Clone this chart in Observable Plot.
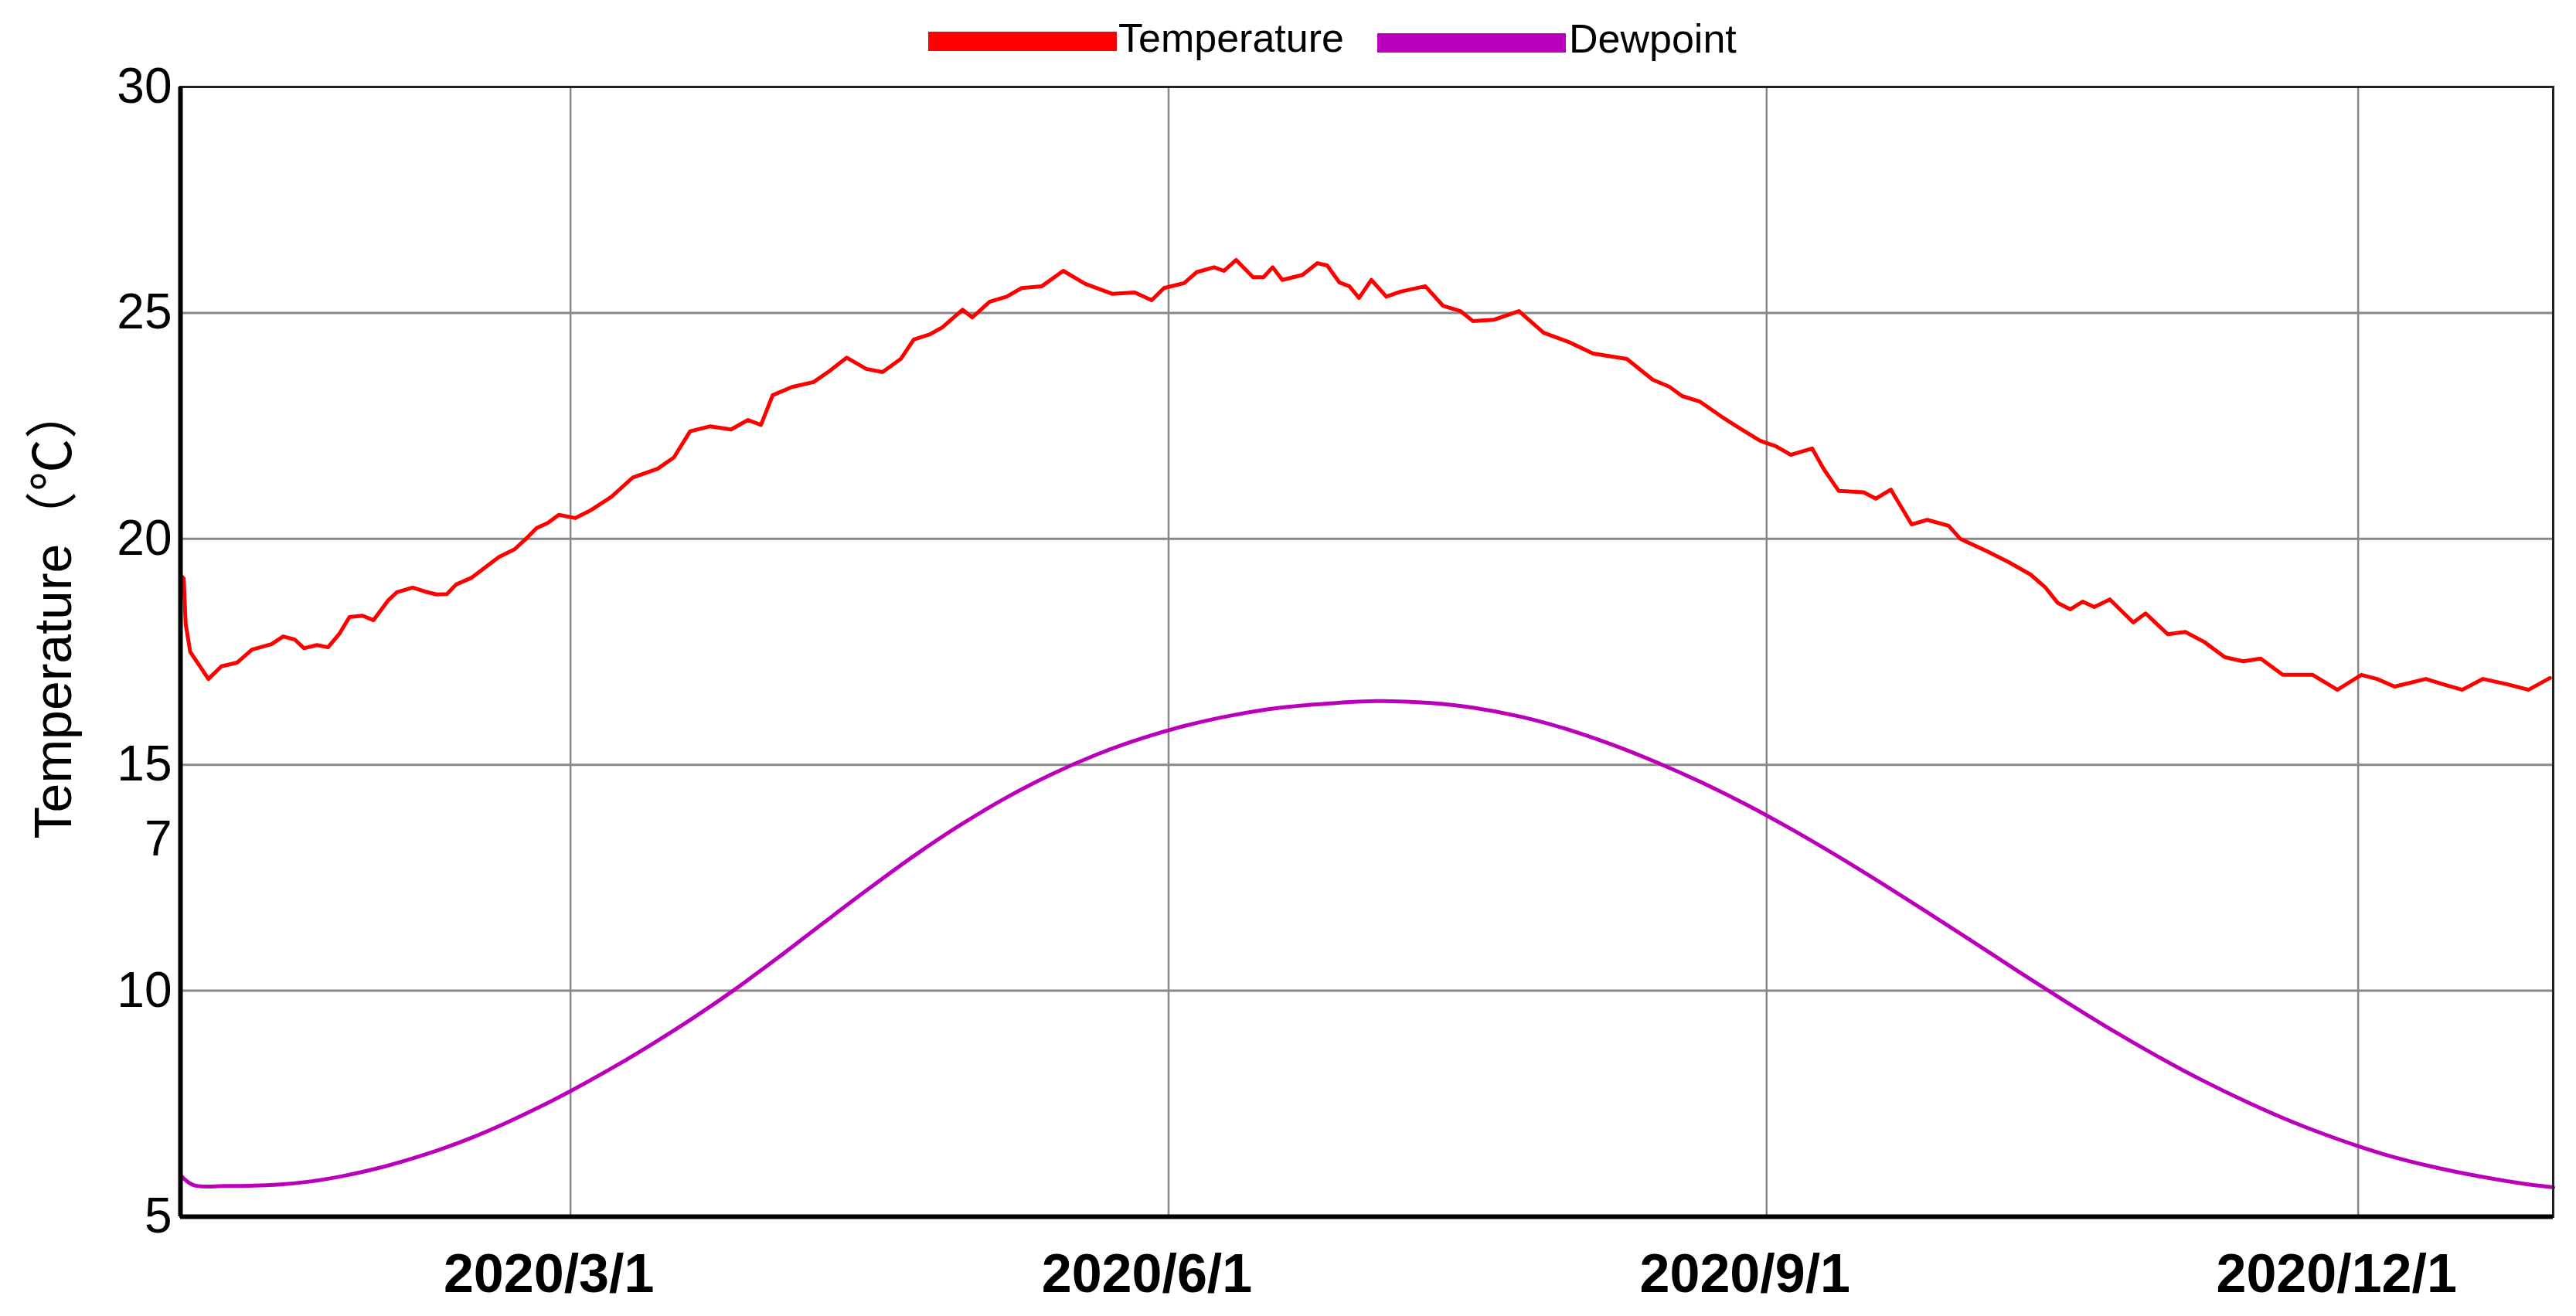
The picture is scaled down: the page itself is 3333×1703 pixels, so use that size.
<!DOCTYPE html>
<html><head><meta charset="utf-8">
<script src="https://cdn.jsdelivr.net/npm/d3@7"></script>
<script src="https://cdn.jsdelivr.net/npm/@observablehq/plot@0.6"></script>
<style>
body{margin:0;background:#fff;}
#wrap{position:relative;width:3333px;height:1703px;}
#legend{position:absolute;left:0;top:0;height:80px;width:3333px;font-family:"Liberation Sans",Arial,sans-serif;z-index:2;}
.sw{position:absolute;height:25px;width:244px;}
.lt{position:absolute;font-size:52px;line-height:1;color:#000;white-space:nowrap;}
</style></head><body>
<div id="wrap">
<div id="chart"></div>
<div id="legend"></div>
</div>
<script>
// ---- data ----
const seriesNames = ["Temperature", "Dewpoint"];
const seriesColors = ["#ff0000", "#bb00bb"];

// day offsets from 2020-01-01
const tempDay = [0,0.5,0.8,1.5,4.3,6.3,8.7,11,14,15.8,17.6,19,21,22.7,24.4,26,28,29.7,31.9,33.3,35.7,37.7,39.4,41,42.4,44.8,47,49,51.4,53,54.8,56.5,58.2,60.7,63.2,66.3,69.6,73.4,75.9,78.4,81.5,84.7,87.3,89.3,91.1,94.1,97.4,99.9,102.5,105.5,108,110.8,112.8,115.2,117.2,120.3,121.8,124.5,127.1,129.4,132.5,135.8,139.2,143.4,146.8,149.4,151.3,154.4,156.3,159,160.5,162.4,165,166.6,168,169.5,172.6,174.9,176.4,178.3,179.8,181.3,183.2,185.5,187.7,191.5,194.2,196.9,198.8,202.1,205.9,209.7,213.5,217.3,222.5,226.5,229,231,233.7,237,239.7,243,245.4,247.7,251,252.8,255.1,258.9,260.8,263.1,266.3,268.7,272,273.8,278,281.3,284.6,286.9,288.8,290.7,292.6,294.4,296.8,300.4,302.3,305.7,308.4,311.3,314.5,317.3,320,323.4,328,331.8,335.5,337.9,340.6,345.4,348.1,351,354.2,358,361.2,364.5];
const tempValue = [19.2,19.12,18.12,17.5,16.9,17.18,17.26,17.55,17.67,17.84,17.77,17.58,17.65,17.6,17.89,18.27,18.3,18.2,18.63,18.82,18.92,18.83,18.77,18.78,18.99,19.14,19.38,19.6,19.77,19.98,20.24,20.35,20.53,20.46,20.64,20.93,21.36,21.55,21.8,22.38,22.49,22.42,22.63,22.52,23.18,23.36,23.47,23.72,24.01,23.76,23.69,23.98,24.41,24.52,24.68,25.07,24.9,25.25,25.36,25.55,25.59,25.93,25.64,25.42,25.45,25.28,25.55,25.66,25.9,26.01,25.93,26.17,25.79,25.79,26.01,25.73,25.84,26.1,26.05,25.67,25.59,25.33,25.73,25.36,25.47,25.59,25.16,25.04,24.82,24.85,25.04,24.56,24.36,24.1,23.98,23.52,23.37,23.16,23.04,22.71,22.46,22.17,22.05,21.86,22.0,21.54,21.06,21.03,20.89,21.09,20.32,20.42,20.29,20.0,19.72,19.48,19.21,18.92,18.58,18.44,18.61,18.49,18.66,18.15,18.35,17.89,17.94,17.72,17.38,17.29,17.35,16.99,16.99,16.66,16.99,16.9,16.73,16.9,16.78,16.66,16.9,16.78,16.66,16.92];

const dewDay = [0,2,7,15,20,25,30,35,40,45,50,55,60,67,73,79,85,92,99,106,113,120,127,134,141,148,155,162,169,176,180,185,192,199,206,213,220,227,234,241,248,255,262,269,276,283,290,297,304,311,318,325,332,339,346,353,360,365];
const dewValue = [5.92,5.7,5.68,5.71,5.78,5.9,6.06,6.26,6.49,6.76,7.07,7.41,7.78,8.34,8.86,9.41,10.0,10.74,11.51,12.27,13.0,13.67,14.27,14.79,15.23,15.59,15.88,16.1,16.26,16.35,16.39,16.41,16.37,16.26,16.07,15.8,15.46,15.06,14.61,14.11,13.56,12.97,12.35,11.71,11.06,10.4,9.76,9.14,8.56,8.02,7.53,7.09,6.71,6.38,6.12,5.91,5.74,5.65];

const yTicks = [5, 10, 15, 20, 25, 30];
const extraYTick = [13.35];
const extraYLabel = "7";
const xTickDates = ["2020-03-01", "2020-06-01", "2020-09-01", "2020-12-01"];
const xTickLabels = ["2020/3/1", "2020/6/1", "2020/9/1", "2020/12/1"];
const xDomain = ["2020-01-01", "2020-12-31"];
const yDomain = [5, 30];
const yLabel = "Temperature（℃）";

// ---- build ----
const t0 = Date.UTC(2020, 0, 1);
const toDate = d => new Date(t0 + d * 864e5);
const temp = tempDay.map((d, i) => ({date: toDate(d), value: tempValue[i]}));
const dew = dewDay.map((d, i) => ({date: toDate(d), value: dewValue[i]}));
const xTicks = xTickDates.map(s => new Date(s + "T00:00:00Z"));
const xLabelOf = d => xTickLabels[xTicks.findIndex(t => +t === +d)];

// legend
const legend = document.getElementById("legend");
const legendItems = [
  {sw: [1201, 41], tx: [1447, 23]},
  {sw: [1782, 43], tx: [2030, 24]}
];
seriesNames.forEach((name, i) => {
  const s = document.createElement("div");
  s.className = "sw";
  s.style.left = legendItems[i].sw[0] + "px";
  s.style.top = legendItems[i].sw[1] + "px";
  s.style.background = seriesColors[i];
  legend.appendChild(s);
  const t = document.createElement("div");
  t.className = "lt";
  t.style.left = legendItems[i].tx[0] + "px";
  t.style.top = legendItems[i].tx[1] + "px";
  t.textContent = name;
  legend.appendChild(t);
});

const font = "'Liberation Sans', Arial, 'Noto Sans CJK SC', sans-serif";
const chart = Plot.plot({
  width: 3333,
  height: 1703,
  marginLeft: 233,
  marginRight: 30,
  marginTop: 112,
  marginBottom: 129,
  x: {type: "utc", domain: xDomain.map(s => new Date(s + "T00:00:00Z"))},
  y: {domain: yDomain},
  style: {fontFamily: font, background: "#fff", color: "#000"},
  marks: [
    Plot.gridY(yTicks, {stroke: "#888", strokeOpacity: 1, strokeWidth: 3}),
    Plot.gridX(xTicks, {stroke: "#888", strokeOpacity: 1, strokeWidth: 2.5}),
    Plot.axisY(yTicks, {tickSize: 0, tickPadding: 11, fontSize: 64, label: null, tickFormat: d => String(d)}),
    Plot.axisY(extraYTick, {tickSize: 0, tickPadding: 11, fontSize: 64, label: null, tickFormat: () => extraYLabel}),
    Plot.axisX(xTicks, {tickSize: 0, tickPadding: 48, fontSize: 70, fontWeight: "bold", dx: -28, label: null, tickFormat: xLabelOf}),
    Plot.line(temp, {x: "date", y: "value", stroke: seriesColors[0], strokeWidth: 5}),
    Plot.line(dew, {x: "date", y: "value", stroke: seriesColors[1], strokeWidth: 5, curve: "catmull-rom"}),
    Plot.frame({stroke: "#222", strokeWidth: 3}),
    Plot.ruleX([xDomain[0]].map(s => new Date(s + "T00:00:00Z")), {stroke: "#000", strokeWidth: 6}),
    Plot.ruleY([yDomain[0]], {stroke: "#000", strokeWidth: 6}),
    Plot.text([yLabel], {frameAnchor: "left", dx: -163, dy: -51, rotate: -90, fontSize: 68, fill: "#000", textAnchor: "middle", lineAnchor: "middle"})
  ]
});
document.getElementById("chart").appendChild(chart);
</script>
</body></html>
